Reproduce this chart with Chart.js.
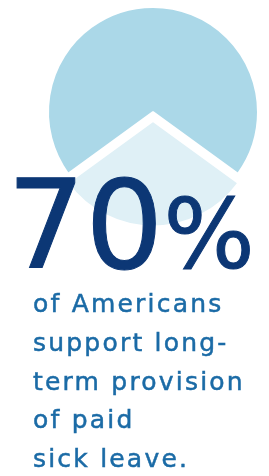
<!DOCTYPE html>
<html lang="en">
  <head>
    <meta charset="UTF-8" />
    <title>70% support paid sick leave</title>
    <script src="https://cdn.jsdelivr.net/npm/chart.js"></script>
    <style>
      html, body { margin: 0; padding: 0; background: #fff; overflow: hidden; }
      body { width: 269px; height: 476px; position: relative; font-family: "DejaVu Sans", sans-serif; }
      #pieBox { position: absolute; left: 38px; top: -3px; width: 230px; height: 230px; }
      #big { position: absolute; left: 7px; top: 164px; color: #0c3775; font-size: 123px; line-height: 1; white-space: nowrap; -webkit-text-stroke: 1px #0c3775; }
      #big .pct { font-size: 96px; }
      #caption { position: absolute; left: 33px; top: 285px; color: #1b6ba6; font-size: 25px; line-height: 38.75px; letter-spacing: 2.2px; white-space: nowrap; -webkit-text-stroke: 0.5px #1b6ba6; }
    </style>
  </head>
  <body>
    <div id="pieBox"><canvas id="pie"></canvas></div>
    <div id="big">70<span class="pct">%</span></div>
    <div id="caption">of Americans<br>support long-<br>term provision<br>of paid<br>sick leave.</div>

    <script>
      // dati
      const labels = ["Support", "Other"];
      const values = [70, 30];
      const colors = ["#abd8e8", "#dff0f6"];
      const offsets = [0, 36]; // Chart.js v4 sposta la fetta di offset/4 px

      const ctx = document.getElementById("pie").getContext("2d");
      new Chart(ctx, {
        type: "pie",
        data: {
          labels: labels,
          datasets: [{
            data: values,
            backgroundColor: colors,
            borderColor: "#ffffff",
            borderWidth: 2,
            offset: offsets,
            hoverOffset: 0
          }]
        },
        options: {
          responsive: true,
          maintainAspectRatio: false,
          animation: false,
          rotation: 234, // la fetta piccola centrata in basso
          radius: 105,
          plugins: { legend: { display: false }, tooltip: { enabled: false } },
          events: []
        }
      });
    </script>
  </body>
</html>
